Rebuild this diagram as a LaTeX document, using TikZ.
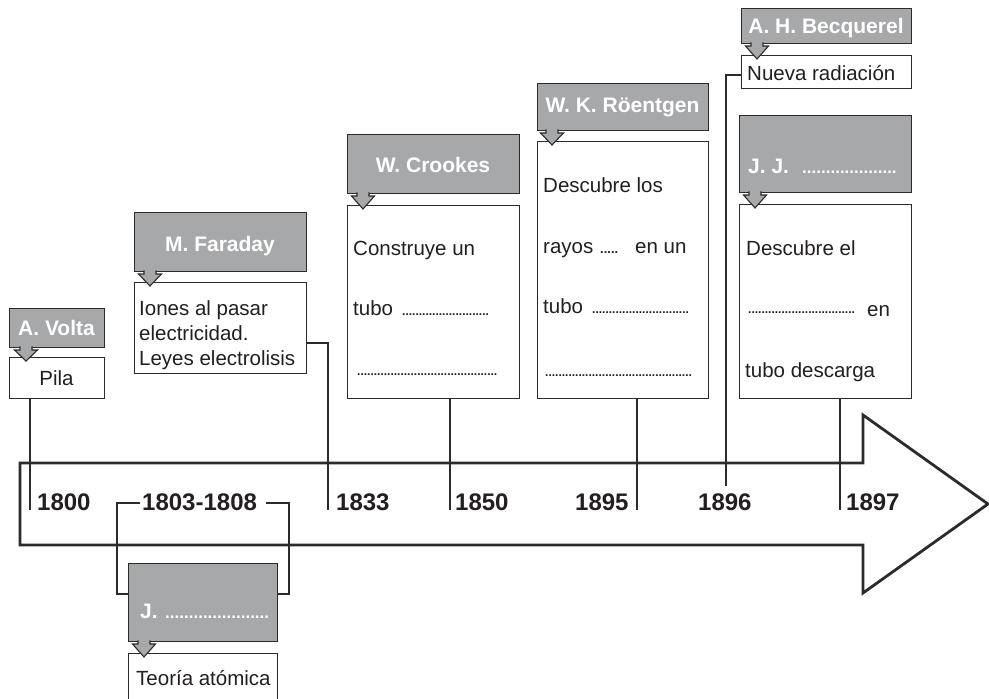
\documentclass[tikz,border=0pt]{standalone}
\usepackage{fontspec}
\setmainfont{Liberation Sans}
\definecolor{grayC}{HTML}{A7A8AA}
\definecolor{lineC}{HTML}{2B2B2B}
\definecolor{txtC}{HTML}{231F20}
\newcommand{\callarr}[3]{%
  \draw[arrst] (#1-6,#2-0.6) -- (#1-6,#2+3) -- (#1-11.5,#2+3) -- (#1,#3) -- (#1+11.5,#2+3) -- (#1+6,#2+3) -- (#1+6,#2-0.6);}
\begin{document}
\begin{tikzpicture}[x=1pt,y=-1pt,
  gbox/.style={draw=lineC, fill=grayC, line width=1.3pt, inner sep=0pt, anchor=north west},
  wbox/.style={draw=lineC, fill=white, line width=1.1pt, inner sep=0pt, anchor=north west},
  arrst/.style={draw=lineC, fill=grayC, line width=1.1pt, line join=miter},
  conn/.style={draw=lineC, line width=1.1pt},
  bigarr/.style={draw=lineC, fill=white, line width=2.8pt, line join=miter},
  gtxt/.style={text=white, font=\bfseries\fontsize{21}{21}\selectfont, inner sep=0pt, anchor=base},
  gtxtl/.style={text=white, font=\bfseries\fontsize{21}{21}\selectfont, inner sep=0pt, anchor=base west},
  wtxt/.style={text=txtC, font=\fontsize{20.5}{20.5}\selectfont, inner sep=0pt, anchor=base west},
  ytxt/.style={text=txtC, font=\bfseries\fontsize{24}{24}\selectfont, inner sep=0pt, anchor=base west},
  wdots/.style={text=txtC, font=\bfseries\fontsize{12}{12}\selectfont, inner sep=0pt, anchor=base west},
  gdots/.style={text=white, font=\bfseries\fontsize{17}{17}\selectfont, inner sep=0pt, anchor=base west}]
\useasboundingbox (0,0) rectangle (989,699);
\clip (0,0) rectangle (989,699);

% big arrow
\draw[bigarr] (20,463) -- (863,463) -- (863,415) -- (988,504) -- (863,593) -- (863,545) -- (20,545) -- cycle;

% ---- boxes ----
% Volta
\node[wbox, minimum width=95pt, minimum height=41pt] (pila) at (9,357) {};
\node[gbox, minimum width=95pt, minimum height=39pt] (voltaG) at (9,308) {};
\callarr{26}{347}{361}
\node[gtxt] (voltaT) at (56.5,335) {A. Volta};
\node[wtxt, anchor=base] (pilaT) at (56.5,385) {Pila};

% Faraday
\node[wbox, minimum width=172pt, minimum height=91pt] (farW) at (134,282) {};
\node[gbox, minimum width=172pt, minimum height=59pt] (farG) at (134,212) {};
\callarr{150}{271}{286}
\node[gtxt] (farT) at (220,251) {M. Faraday};
\node[wtxt] (far1) at (139,315) {Iones al pasar};
\node[wtxt] (far2) at (139,340) {electricidad.};
\node[wtxt] (far3) at (139,365) {Leyes electrolisis};

% Crookes
\node[wbox, minimum width=172pt, minimum height=193pt] (croW) at (347,205) {};
\node[gbox, minimum width=172pt, minimum height=59pt] (croG) at (347,134) {};
\callarr{363}{193}{209}
\node[gtxt] (croT) at (433,172) {W. Crookes};
\node[wtxt] (cro1) at (353,255) {Construye un};
\node[wtxt] (cro2) at (353,315) {tubo};
\node[wdots] (cro3) at (402,315) {..........................};
\node[wdots] (cro4) at (357,375) {..........................................};

% Roentgen
\node[wbox, minimum width=171pt, minimum height=257pt] (roeW) at (537,141) {};
\node[gbox, minimum width=171pt, minimum height=47pt] (roeG) at (537,83) {};
\callarr{552}{130}{145}
\node[gtxt] (roeT) at (622.5,112) {W. K. Röentgen};
\node[wtxt] (roe1) at (543,192) {Descubre los};
\node[wtxt] (roe2) at (543,253) {rayos};
\node[wdots, font=\bfseries\fontsize{13}{13}\selectfont] (roe3) at (600,253) {.....};
\node[wtxt] (roe4) at (635,253) {en un};
\node[wtxt] (roe5) at (543,313) {tubo};
\node[wdots] (roe6) at (592,313) {.............................};
\node[wdots] (roe7) at (545,376) {............................................};

% Becquerel
\node[wbox, minimum width=170pt, minimum height=33pt] (becW) at (741,55) {};
\node[gbox, minimum width=170pt, minimum height=35pt] (becG) at (741,8) {};
\callarr{757}{43}{59}
\node[gtxt] (becT) at (826,33) {A. H. Becquerel};
\node[wtxt] (bec1) at (747,80) {Nueva radiación};

% J. J. Thomson
\node[wbox, minimum width=172pt, minimum height=194pt] (jjW) at (739,204) {};
\node[gbox, minimum width=172pt, minimum height=77pt] (jjG) at (739,115) {};
\callarr{755}{192}{208}
\node[gtxtl] (jjT) at (748,173) {J. J.};
\node[gdots] (jjD) at (802,173) {....................};
\node[wtxt] (jj1) at (746,255) {Descubre el};
\node[wdots] (jj2) at (748,313) {................................};
\node[wtxt] (jj3) at (867,316) {en};
\node[wtxt] (jj4) at (745,377) {tubo descarga};

% Dalton
\node[wbox, minimum width=149pt, minimum height=60pt] (dalW) at (128,653) {};
\node[gbox, minimum width=149pt, minimum height=78pt] (dalG) at (128,563) {};
\callarr{144}{641}{657}
\node[gtxtl] (dalT) at (140,618) {J.};
\node[gdots] (dalD) at (165,618) {......................};
\node[wtxt] (dal1) at (136,685) {Teoría atómica};

% ---- years ----
\node[ytxt] (y1800) at (37,510) {1800};
\node[ytxt] (y1803) at (142,510) {1803-1808};
\node[ytxt] (y1833) at (336,510) {1833};
\node[ytxt] (y1850) at (455,510) {1850};
\node[ytxt] (y1895) at (575,510) {1895};
\node[ytxt] (y1896) at (698,510) {1896};
\node[ytxt] (y1897) at (846,510) {1897};

% ---- connectors ----
\coordinate (t1800) at (30,510);
\coordinate (t1833) at (328,510);
\coordinate (k1833) at (328,343);
\coordinate (t1850) at (450,510);
\coordinate (t1895) at (637,510);
\coordinate (t1896) at (726,486);
\coordinate (k1896) at (726,75);
\coordinate (t1897) at (840,510);
\coordinate (bl) at (117,503);
\coordinate (bl2) at (117,594);
\coordinate (br) at (289,503);
\coordinate (br2) at (289,594);

\draw[conn] (pila.south -| t1800) -- (t1800);
\draw[conn] (k1833 -| farW.east) -- (k1833) -- (t1833);
\draw[conn] (croW.south -| t1850) -- (t1850);
\draw[conn] (roeW.south -| t1895) -- (t1895);
\draw[conn] (k1896 -| becW.west) -- (k1896) -- (t1896);
\draw[conn] (jjW.south -| t1897) -- (t1897);
\draw[conn] ([xshift=-2pt]y1803.west |- bl) -- (bl) -- (bl2) -- (bl2 -| dalG.west);
\draw[conn] ([xshift=9pt]y1803.east |- br) -- (br) -- (br2) -- (br2 -| dalG.east);
\end{tikzpicture}
\end{document}
